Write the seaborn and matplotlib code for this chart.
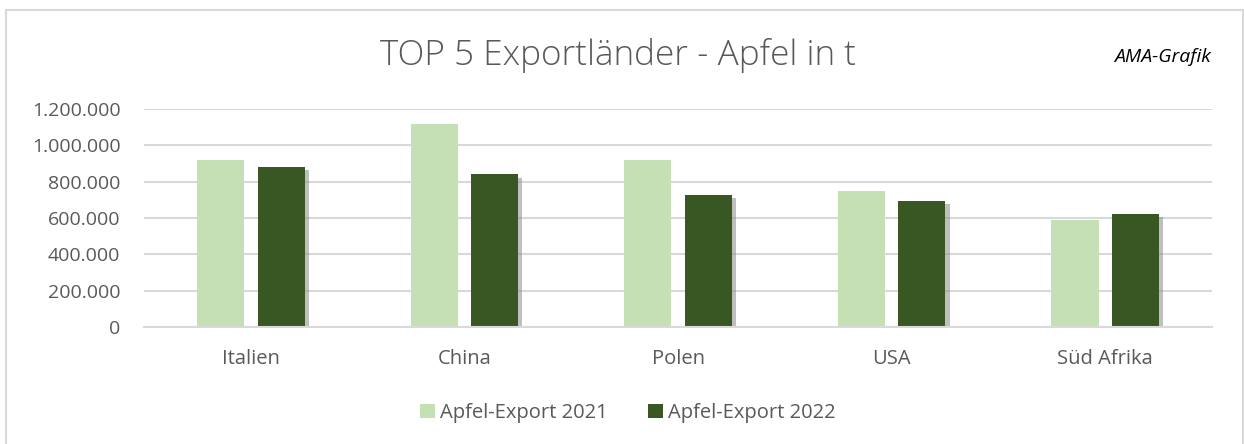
import matplotlib
matplotlib.use('Agg')
import matplotlib.pyplot as plt
import matplotlib.patheffects as pe
from matplotlib.patches import Rectangle
from matplotlib.ticker import FuncFormatter
import pandas as pd
import seaborn as sns

# values (t)
countries = ['Italien', 'China', 'Polen', 'USA', 'Süd Afrika']
export_2021 = [917000, 1115000, 921000, 751000, 587000]
export_2022 = [883000, 840000, 729000, 696000, 622000]
series = ['Apfel-Export 2021', 'Apfel-Export 2022']
colors = ['#C5E0B4', '#385723']

df = pd.DataFrame({
    'Land': countries * 2,
    'Serie': [series[0]] * len(countries) + [series[1]] * len(countries),
    'Export': export_2021 + export_2022,
})

sns.set_style('white')
plt.rcParams['font.family'] = ['Open Sans', 'DejaVu Sans']
text_grey = '#595959'

fig = plt.figure(figsize=(12.44, 4.44), dpi=100)
ax = fig.add_axes([0.1158, 0.2635, 0.8585, 0.491])

sns.barplot(data=df, x='Land', y='Export', hue='Serie', palette=colors,
            width=0.566, gap=0.22, ax=ax, saturation=1, linewidth=0,
            legend=True)

# drop shadow on the dark bars, like the excel original
for bar in ax.containers[1]:
    bar.set_path_effects([pe.SimplePatchShadow(offset=(3, -2.5), shadow_rgbFace='#8c8c8c', alpha=0.55),
                          pe.Normal()])

ax.set_ylim(0, 1200000)
ax.set_yticks(range(0, 1200001, 200000))
ax.yaxis.set_major_formatter(FuncFormatter(lambda v, p: f'{int(v):,}'.replace(',', '.')))
ax.grid(axis='y', color='#D9D9D9', linewidth=1.5)
ax.set_axisbelow(True)
for s in ['top', 'right', 'left']:
    ax.spines[s].set_visible(False)
ax.spines['bottom'].set_color('#D9D9D9')
ax.spines['bottom'].set_linewidth(1.5)
ax.tick_params(axis='x', length=0, labelsize=14.5, colors=text_grey, pad=16)
ax.tick_params(axis='y', length=0, labelsize=14, colors=text_grey, pad=17)
ax.set_xlabel('')
ax.set_ylabel('')

leg = ax.legend(loc='upper center', bbox_to_anchor=(0.5 - 0.047, -0.265), ncol=2, frameon=False,
                fontsize=14.5, handlelength=0.75, handleheight=0.75, handletextpad=0.25,
                columnspacing=2.0)
for t in leg.get_texts():
    t.set_color(text_grey)

fig.text(0.497, 0.876, 'TOP 5 Exportländer - Apfel in t', ha='center', va='center',
         fontsize=25.3, color=text_grey, fontweight='light')
fig.text(0.973, 0.872, 'AMA-Grafik', ha='right', va='center', fontsize=14,
         style='italic', color='#000000')

# light frame round the chart
fig.patches.append(Rectangle((6 / 1244, -0.05), 1237 / 1244, 1 - 10 / 444 + 0.05,
                             transform=fig.transFigure, fill=False,
                             edgecolor='#D9D9D9', linewidth=1.5))

fig.savefig('out.png', dpi=100)
